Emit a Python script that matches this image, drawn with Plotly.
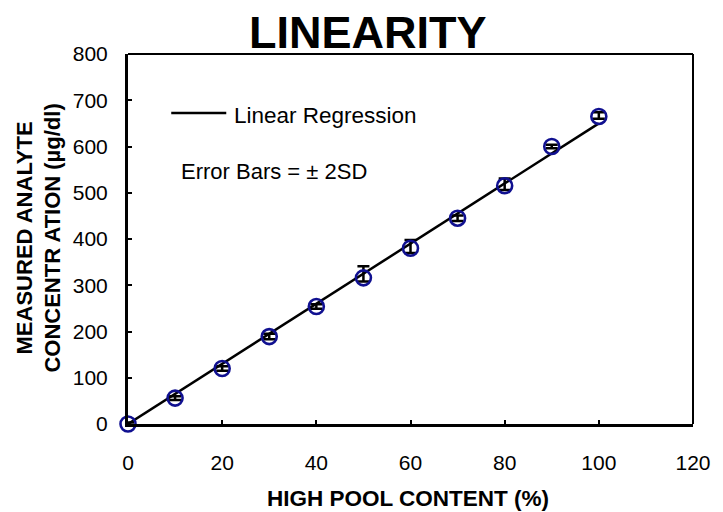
import plotly.graph_objects as go

# Data
pool_pct = [0, 10, 20, 30, 40, 50, 60, 70, 80, 90, 100]
measured = [0, 56, 120, 189, 254, 316, 380, 445, 515, 600, 665]
err_plus = [3, 4, 5, 6, 5, 25, 18, 6, 16, 4, 9]
err_minus = [3, 4, 5, 6, 5, 8, 10, 6, 9, 4, 5]
reg_x = [0, 100]
reg_y = [0, 650]
x_ticks = [0, 20, 40, 60, 80, 100, 120]
y_ticks = [0, 100, 200, 300, 400, 500, 600, 700, 800]

FONT = "Arial, Liberation Sans, sans-serif"
OFF = 8  # page body margin offset
W, H = 723 - OFF, 512 - OFF
L, R, T, B = 120, 20, 46, 88
PW, PH = W - L - R, H - T - B

def px(xpix):
    return (xpix - OFF - L) / PW

def py(ypix):
    return (H - B - (ypix - OFF)) / PH

fig = go.Figure()
fig.add_trace(go.Scatter(
    x=reg_x, y=reg_y, mode="lines",
    line=dict(color="black", width=2.5), showlegend=False, cliponaxis=True))
fig.add_trace(go.Scatter(
    x=pool_pct, y=measured, mode="markers",
    marker=dict(symbol="circle-open", size=15, color="#101090",
                line=dict(width=2.6, color="#101090")),
    error_y=dict(type="data", symmetric=False, array=err_plus, arrayminus=err_minus,
                 color="black", thickness=2.5, width=6),
    showlegend=False, cliponaxis=False))

axis_common = dict(showline=True, linecolor="black", linewidth=3, mirror=False,
                   ticks="inside", ticklen=4, tickwidth=2, tickcolor="black",
                   showgrid=False, zeroline=False,
                   tickfont=dict(family=FONT, size=21, color="black"))

fig.update_layout(
    width=W, height=H,
    margin=dict(l=L, r=R, t=T, b=B, pad=0),
    paper_bgcolor="white", plot_bgcolor="white",
    xaxis=dict(range=[0, 120], tickvals=x_ticks, ticklabelstandoff=18, **axis_common),
    yaxis=dict(range=[0, 800], tickvals=y_ticks, ticklabelstandoff=13, **axis_common),
    shapes=[
        dict(type="line", xref="paper", yref="paper", x0=0, x1=1, y0=1, y1=1,
             line=dict(color="black", width=2)),
        dict(type="line", xref="paper", yref="paper", x0=1, x1=1, y0=0, y1=1,
             line=dict(color="black", width=2)),
        dict(type="line", xref="paper", yref="paper",
             x0=px(172), x1=px(228), y0=py(113), y1=py(113),
             line=dict(color="black", width=2.5)),
    ],
    annotations=[
        dict(text="<b>LINEARITY</b>", xref="paper", yref="paper", x=px(372), y=py(33),
             xanchor="center", yanchor="middle", showarrow=False,
             font=dict(family=FONT, size=45, color="black")),
        dict(text="Linear Regression", xref="paper", yref="paper", x=px(234), y=py(115),
             xanchor="left", yanchor="middle", showarrow=False,
             font=dict(family=FONT, size=22.5, color="black")),
        dict(text="Error Bars = ± 2SD", xref="paper", yref="paper", x=px(180), y=py(171),
             xanchor="left", yanchor="middle", showarrow=False,
             font=dict(family=FONT, size=22, color="black")),
        dict(text="<b>HIGH POOL CONTENT (%)</b>", xref="paper", yref="paper", x=px(413), y=py(498),
             xanchor="center", yanchor="middle", showarrow=False,
             font=dict(family=FONT, size=22.5, color="black")),
        dict(text="<b>MEASURED ANALYTE<br>CONCENTR ATION (µg/dl)</b>", xref="paper", yref="paper",
             x=px(37), y=py(238), xanchor="center", yanchor="middle", textangle=-90,
             showarrow=False, font=dict(family=FONT, size=22, color="black")),
    ],
)

fig.write_html("out.html")
